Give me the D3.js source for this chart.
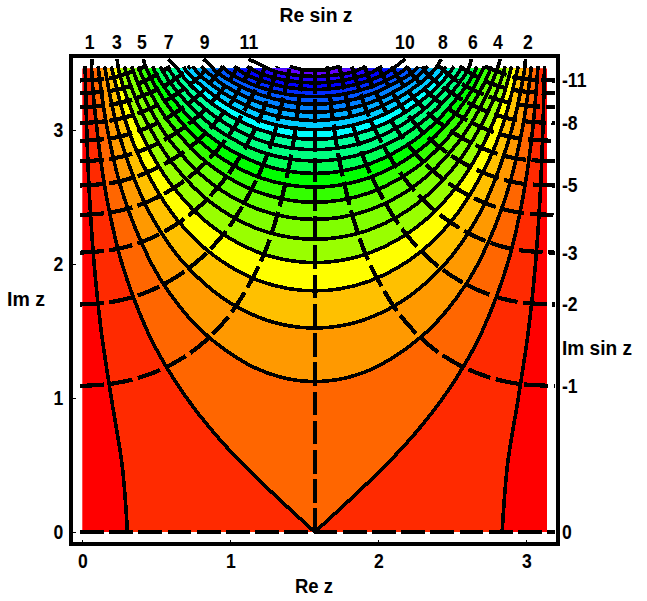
<!DOCTYPE html>
<html>
<head>
<meta charset="utf-8">
<script src="https://d3js.org/d3.v7.min.js"></script>
<style>
  html, body { margin: 0; padding: 0; background: #fff; }
  svg { display: block; }
  text { font-family: "Liberation Sans", Arial, sans-serif; font-weight: bold; fill: #000; }
</style>
</head>
<body>
<div id="main"></div>
<script>
const PI = 3.14159
const zTop = 3.46

// contours of Re sin z, left half only: [Re z, Im z] from the top edge down to the middle
const re00 = [[.019,3.475],[.03,3],[.049,2.5],[.08,2],[.128,1.5],[.196,1],[.269,.5],[.305,0]]
const re01 = [[.063,3.475],[.0995,3],[.164,2.5],[.269,2],[.439,1.5],[.558,1.25],[.705,1],[.882,.75],[1.09,.5],[1.325,.25],[1.5708,0]]
const re02 = [[.107,3.475],[.17,3],[.281,2.5],[.469,2],[.611,1.75],[.808,1.5],[1.122,1.25],[1.35,1.153],[1.5708,1.123]]
const re03 = [[.151,3.475],[.241,3],[.402,2.5],[.524,2.25],[.692,2],[.944,1.75],[1.198,1.6],[1.4,1.538],[1.5708,1.522]]
const re04 = [[.196,3.475],[.3,3.04],[.4,2.764],[.6,2.389],[.8,2.144],[1,1.98],[1.2,1.873],[1.4,1.815],[1.5708,1.8]]
const re05 = [[.241,3.475],[.3,3.245],[.4,2.968],[.5,2.759],[.6,2.594],[.8,2.351],[1,2.189],[1.2,2.083],[1.4,2.026],[1.5708,2.01]]
const re06 = [[.286,3.475],[.3,3.415],[.4,3.138],[.5,2.932],[.6,2.765],[.8,2.523],[1,2.361],[1.2,2.256],[1.4,2.2],[1.5708,2.185]]
const re07 = [[.333,3.475],[.4,3.284],[.5,3.075],[.6,2.911],[.8,2.669],[1,2.508],[1.2,2.404],[1.4,2.348],[1.5708,2.333]]
const re08 = [[.379,3.475],[.4,3.411],[.5,3.201],[.6,3.038],[.8,2.796],[1,2.636],[1.2,2.532],[1.4,2.476],[1.5708,2.461]]
const re09 = [[.427,3.475],[.5,3.314],[.6,3.15],[.8,2.909],[1,2.749],[1.2,2.645],[1.4,2.589],[1.5708,2.574]]
const re10 = [[.476,3.475],[.5,3.415],[.6,3.252],[.8,3.011],[1,2.851],[1.2,2.747],[1.4,2.691],[1.5708,2.676]]
const re11 = [[.526,3.475],[.6,3.344],[.8,3.103],[1,2.943],[1.2,2.84],[1.4,2.784],[1.5708,2.769]]
const re12 = [[.578,3.475],[.6,3.428],[.8,3.186],[1,3.027],[1.2,2.923],[1.4,2.868],[1.5708,2.853]]
const re13 = [[.631,3.475],[.7,3.373],[.8,3.265],[1,3.105],[1.2,3.002],[1.4,2.946],[1.5708,2.931]]
const re14 = [[.687,3.475],[.7,3.445],[.8,3.336],[1,3.176],[1.2,3.073],[1.4,3.018],[1.5708,3.003]]
const re15 = [[.745,3.475],[.8,3.405],[.9,3.317],[1,3.245],[1.2,3.141],[1.4,3.086],[1.5708,3.071]]
const re16 = [[.806,3.475],[.9,3.379],[1,3.307],[1.2,3.203],[1.4,3.148],[1.5708,3.133]]
const re17 = [[.872,3.475],[.9,3.439],[1,3.367],[1.2,3.264],[1.4,3.208],[1.5708,3.193]]
const re18 = [[.944,3.475],[1,3.422],[1.2,3.319],[1.4,3.263],[1.5708,3.249]]
const re19 = [[1.024,3.475],[1.1,3.418],[1.2,3.372],[1.4,3.316],[1.5708,3.302]]
const re20 = [[1.114,3.475],[1.2,3.423],[1.3,3.39],[1.4,3.367],[1.5708,3.352]]
const re21 = [[1.227,3.475],[1.3,3.438],[1.4,3.415],[1.5708,3.4]]
const re22 = [[1.401,3.475],[1.5,3.449],[1.5708,3.446]]
const reContours = [re00,re01,re02,re03,re04,re05,re06,re07,re08,re09,re10,re11,re12,re13,re14,re15,re16,re17,re18,re19,re20,re21,re22]

// contours of Im sin z, left half: from the left edge up to the top edge
const im01 = [[-.015,1.09],[.2,1.107],[.4,1.157],[.6,1.249],[.8,1.396],[1,1.626],[1.2,2.004],[1.3,2.3],[1.4,2.746],[1.45,3.089],[1.488,3.475]]
const im02 = [[-.015,1.698],[.2,1.717],[.4,1.775],[.6,1.88],[.8,2.042],[1,2.29],[1.2,2.684],[1.3,2.985],[1.404,3.475]]
const im03 = [[-.015,2.085],[.2,2.105],[.4,2.164],[.6,2.272],[.8,2.438],[1,2.69],[1.2,3.087],[1.32,3.475]]
const im04 = [[-.015,2.366],[.2,2.386],[.4,2.446],[.6,2.555],[.8,2.723],[1,2.975],[1.2,3.373],[1.233,3.475]]
const im05 = [[-.015,2.586],[.2,2.605],[.4,2.667],[.6,2.775],[.8,2.94],[1,3.197],[1.144,3.475]]
const im06 = [[-.015,2.766],[.2,2.786],[.4,2.847],[.6,2.956],[.8,3.121],[1,3.378],[1.051,3.475]]
const im07 = [[-.015,2.919],[.2,2.939],[.4,3],[.6,3.109],[.8,3.274],[.952,3.475]]
const im08 = [[-.015,3.052],[.2,3.072],[.4,3.134],[.6,3.243],[.8,3.407],[.846,3.475]]
const im09 = [[-.015,3.17],[.2,3.19],[.4,3.252],[.6,3.359],[.73,3.475]]
const im10 = [[-.015,3.274],[.2,3.294],[.4,3.356],[.594,3.475]]
const im11 = [[-.015,3.37],[.2,3.389],[.424,3.475]]
const imContours = [im01,im02,im03,im04,im05,im06,im07,im08,im09,im10,im11]
const imBase = [[-.015,0],[3.196,0]]
const imCentre = [[1.5708,0],[1.5708,3.475]]
const imRightEdge = 3.196

// band colours, lowest Re sin z first
const bandColors = ['#ff0000','#ff2a00','#ff6600','#ff9900','#ffc000','#ffff00','#99ff00','#80ff00',
  '#66ff00','#33ff00','#00ff00','#00ff55','#00ff80','#00ff99','#00ffff','#00ccff',
  '#00aaff','#0080ff','#0055ff','#002aff','#0000ff','#2000ff','#6000ff','#7f00ff']

// top labels and where their lines stick out above the plot
const reLabels = ['1','2','3','4','5','6','7','8','9','10','11']
const reLabelX = [.047,3.007,.23,2.804,.4,2.635,.58,2.432,.824,2.176,1.122]
const reTopX = [.068,2.993,.236,2.824,.412,2.628,.58,2.426,.818,2.182,1.122]
const reTopY = 3.53

const imLabels = ['-11','-8','-5','-3','-2','-1','0']
const imLabelY = [3.37,3.052,2.586,2.085,1.698,1.09,0]

const xTicks = [0,1,2,3]
const yTicks = [0,1,2,3]

const width = 647, height = 601

const svg = d3.select('div#main').append('svg')
  .attr('width', width)
  .attr('height', height)

const x = d3.scaleLinear().domain([0, PI]).range([82.3, 547.3])
const y = d3.scaleLinear().domain([0, zTop]).range([532, 68.4])

const line = d3.line()
  .x(d => x(d[0]))
  .y(d => y(d[1]))
  .curve(d3.curveCatmullRom)

const mirror = d => [PI - d[0], d[1]]

svg.append('clipPath').attr('id', 'plot')
  .append('rect')
    .attr('x', x(0))
    .attr('y', y(zTop))
    .attr('width', x(PI) - x(0))
    .attr('height', y(0) - y(zTop))

// a contour is one path, except the two that reach the real axis: those have a corner or a gap
const rePaths = (pts, k) => {
  const isCusp = pts[pts.length - 1][1] === 0
  let left = pts.slice()
  let right = (isCusp ? pts : pts.slice(0, -1)).slice().reverse().map(mirror)
  if (k % 2 === 1) {
    const n = (k - 1) / 2
    if (n % 2 === 0) left = [[reTopX[n], reTopY]].concat(left)
    else right = right.concat([[reTopX[n], reTopY]])
  }
  return isCusp ? [line(left), line(right)] : [line(left.concat(right))]
}

const fills = svg.append('g').attr('clip-path', 'url(#plot)').attr('shape-rendering', 'crispEdges')

fills.append('rect')
  .attr('x', x(0))
  .attr('y', y(zTop))
  .attr('width', x(PI) - x(0))
  .attr('height', y(0) - y(zTop))
  .attr('fill', bandColors[0])

fills.selectAll('path')
  .data(reContours)
  .enter()
  .append('path')
    .attr('d', (d, k) => {
      const p = rePaths(d, k)
      return p[0] + (p[1] ? p[1].replace('M', 'L') : '') + 'Z'
    })
    .attr('fill', (d, k) => bandColors[k + 1])

const reLines = svg.append('g')
  .attr('fill', 'none')
  .attr('stroke', '#000')
  .attr('stroke-width', 3.6)
  .attr('shape-rendering', 'crispEdges')

reContours.forEach((pts, k) => {
  rePaths(pts, k).forEach(d => reLines.append('path').attr('d', d))
})

const imLines = svg.append('g')
  .attr('fill', 'none')
  .attr('stroke', '#000')
  .attr('stroke-width', 4.2)
  .attr('stroke-dasharray', '23.7 5.5')
  .attr('shape-rendering', 'crispEdges')

imLines.append('path').attr('d', line(imBase))
imLines.append('path').attr('d', line(imCentre))

imContours.forEach(pts => {
  imLines.append('path').attr('d', line(pts))
  const right = pts.slice().reverse().map(mirror)
  right[right.length - 1] = [imRightEdge, pts[0][1]]
  imLines.append('path').attr('d', line(right))
})

// frame
svg.append('rect')
  .attr('x', 71)
  .attr('y', 56)
  .attr('width', 487)
  .attr('height', 488)
  .attr('fill', 'none')
  .attr('stroke', '#000')
  .attr('stroke-width', 4)
  .attr('shape-rendering', 'crispEdges')

// labels in the reference are a bit narrower than the font, so squeeze them sideways
const styleAxis = g => {
  g.attr('font-family', null).attr('font-size', 20)
  g.select('.domain').remove()
  g.selectAll('line').attr('shape-rendering', 'crispEdges')
  g.selectAll('text').attr('transform', 'scale(.88,1)')
}

svg.append('g')
  .attr('transform', 'translate(0,542)')
  .call(d3.axisBottom(x).tickValues(xTicks).tickFormat(d3.format('d')).tickSize(-2).tickPadding(12))
  .call(styleAxis)

svg.append('g')
  .attr('transform', 'translate(73,0)')
  .call(d3.axisLeft(y).tickValues(yTicks).tickFormat(d3.format('d')).tickSize(-3).tickPadding(11))
  .call(styleAxis)

svg.append('g')
  .attr('transform', 'translate(0,49)')
  .call(d3.axisTop(x).tickValues(reLabelX).tickFormat((d, i) => reLabels[i]).tickSize(0).tickPadding(0))
  .call(styleAxis)

svg.append('g')
  .attr('transform', 'translate(562,0)')
  .call(d3.axisRight(y).tickValues(imLabelY).tickFormat((d, i) => imLabels[i]).tickSize(0).tickPadding(0))
  .call(styleAxis)

const title = (px, py, anchor, len, str) => svg.append('text')
  .attr('x', px)
  .attr('y', py)
  .attr('text-anchor', anchor)
  .attr('font-size', 20)
  .attr('textLength', len)
  .attr('lengthAdjust', 'spacingAndGlyphs')
  .text(str)

title(316, 22, 'middle', 73, 'Re sin z')
title(314, 593, 'middle', 38, 'Re z')
title(7, 306, 'start', 38, 'Im z')
title(562, 355, 'start', 70, 'Im sin z')
</script>
</body>
</html>
